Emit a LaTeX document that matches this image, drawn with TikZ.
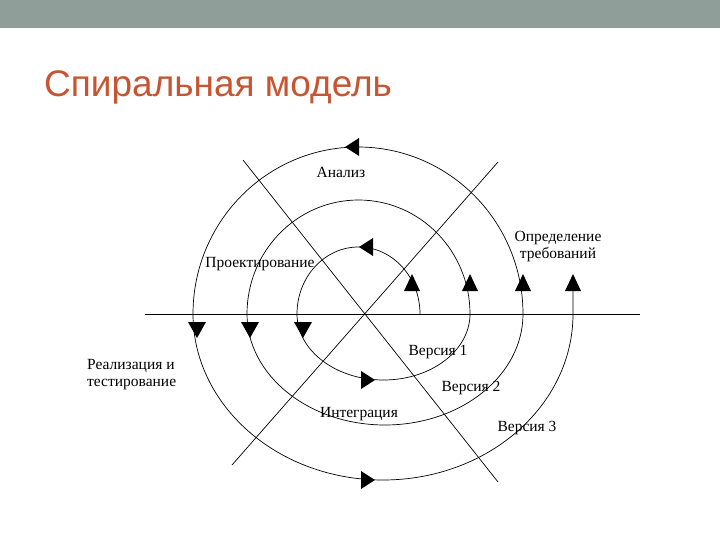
\documentclass[tikz,border=0pt]{standalone}
\usepackage{fontspec}
\setmainfont{Liberation Serif}
\newfontfamily\titlefont{Liberation Sans}
\begin{document}
\begin{tikzpicture}[x=1pt,y=-1pt,
  lbl/.style={font=\fontsize{15.5}{17}\selectfont, inner sep=0pt},
  crv/.style={line width=0.7pt},
  tri/.style={fill=black}]
\useasboundingbox[fill=white] (0,0) rectangle (720,540);
\fill[fill={rgb,255:red,143;green,158;blue,152}] (0,0) rectangle (720,28);
\node[anchor=base west, inner sep=0pt, text={rgb,255:red,200;green,85;blue,50},
  font=\titlefont\fontsize{37}{40}\selectfont] (title) at (44,97) {Спиральная модель};
% axes
\coordinate (h1) at (145,314); \coordinate (h2) at (640,314);
\coordinate (a1) at (243,160); \coordinate (a2) at (498,482);
\coordinate (b1) at (498,162); \coordinate (b2) at (232,465);
\draw[crv] (h1) -- (h2);
\draw[crv] (a1) -- (a2);
\draw[crv] (b1) -- (b2);
% spiral (y axis is flipped)
\draw[crv] (420,314) arc[start angle=0,end angle=-180,x radius=61.5,y radius=67]
  arc[start angle=180,end angle=0,x radius=86.5,y radius=66]
  arc[start angle=0,end angle=-180,x radius=111.5,y radius=114]
  arc[start angle=180,end angle=0,x radius=138,y radius=111]
  arc[start angle=0,end angle=-180,x radius=165,y radius=167]
  arc[start angle=180,end angle=0,x radius=190,y radius=166]
  -- (573,276);
% up triangles
\foreach \x in {412,470,523,573}
  \fill[tri] (\x,274) -- (\x+8,291) -- (\x-8,291) -- cycle;
% down triangles
\foreach \x in {197,250,303}
  \fill[tri] (\x-9,322) -- (\x+9,322) -- (\x,338) -- cycle;
% left arrows
\foreach \x/\y in {353/147,367/247}
  \fill[tri] (\x-8,\y) -- (\x+6,\y-9) -- (\x+6,\y+9) -- cycle;
% right arrows
\foreach \x/\y in {367/380,367/480}
  \fill[tri] (\x+8,\y) -- (\x-6,\y-9) -- (\x-6,\y+9) -- cycle;
% labels
\node[lbl] (an) at (341,172) {Анализ};
\node[lbl] (pr) at (260,264) {Проектирование};
\node[lbl, align=center] (op) at (558,247) {Определение\\требований};
\node[lbl, align=left, anchor=west] (re) at (87,375) {Реализация и\\тестирование};
\node[lbl] (v1) at (438,352) {Версия 1};
\node[lbl] (v2) at (471,388) {Версия 2};
\node[lbl] (v3) at (527,428) {Версия 3};
\node[lbl] (in) at (359,414) {Интеграция};
\end{tikzpicture}
\end{document}
